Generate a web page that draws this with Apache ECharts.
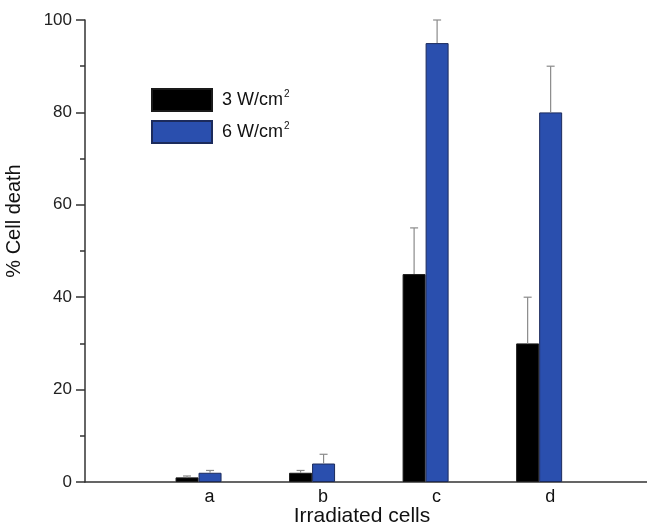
<!DOCTYPE html>
<html>
<head>
<meta charset="utf-8">
<script src="https://cdn.jsdelivr.net/npm/echarts@6/dist/echarts.min.js"></script>
<style>html,body{margin:0;padding:0;background:#fff;}#c{width:647px;height:527px;}</style>
</head>
<body>
<div id="c"></div>
<script>
const categories = ['a', 'b', 'c', 'd'];
const seriesNames = ['3 W/cm²', '6 W/cm²'];
const death3 = [1, 2, 45, 30];
const death6 = [2, 4, 95, 80];
const err3 = [0.3, 0.5, 10, 10];
const err6 = [0.5, 2, 5, 10];
const yTicks = [0, 20, 40, 60, 80, 100];

const chart = echarts.init(document.getElementById('c'));
const pos = categories.map((c, i) => i + 1);
const FONT = 'Liberation Sans, Arial, sans-serif';
const HALF = 11.5;

function errSeries(vals, errs, off) {
  return {
    type: 'custom',
    silent: true,
    z: 5,
    data: pos.map((x, i) => [x, vals[i], errs[i]]),
    renderItem: function (params, api) {
      const x = api.value(0), v = api.value(1), e = api.value(2);
      const p0 = api.coord([x, v]);
      const p1 = api.coord([x, v + e]);
      const cx = p0[0] + off;
      const st = { stroke: '#8a8a8a', lineWidth: 1.2 };
      return {
        type: 'group',
        children: [
          { type: 'line', shape: { x1: cx, y1: p0[1], x2: cx, y2: p1[1] }, style: st },
          { type: 'line', shape: { x1: cx - 4, y1: p1[1], x2: cx + 4, y2: p1[1] }, style: st }
        ]
      };
    }
  };
}

chart.setOption({
  backgroundColor: '#fff',
  animation: false,
  grid: { left: 85, top: 20, bottom: 45, right: 0, containLabel: false, outerBoundsMode: 'none' },
  legend: {
    orient: 'vertical',
    left: 146, top: 83,
    itemWidth: 60, itemHeight: 22, itemGap: 8,
    icon: 'rect',
    data: seriesNames,
    formatter: n => n.replace('²', '') + '{s|2}',
    textStyle: {
      fontFamily: FONT, fontSize: 18, color: '#111', lineHeight: 22,
      padding: [0, 0, 0, 5],
      rich: { s: { fontSize: 10, verticalAlign: 'top', lineHeight: 12, padding: [0, 0, 8, 1], fontFamily: FONT, color: '#111' } }
    }
  },
  xAxis: {
    type: 'value',
    min: 0, max: 4.95, interval: 1,
    name: 'Irradiated cells',
    nameLocation: 'middle',
    nameGap: 24,
    nameMoveOverlap: false,
    nameTextStyle: { fontFamily: FONT, fontSize: 21, color: '#111', padding: [0, 8, 0, 0] },
    axisLine: { show: true, lineStyle: { color: '#333', width: 1.5 } },
    axisTick: { show: false },
    splitLine: { show: false },
    axisLabel: {
      fontFamily: FONT, fontSize: 18, color: '#111', margin: 6,
      padding: [0, 0, 0, 22],
      formatter: v => categories[Math.round(v) - 1] || ''
    }
  },
  yAxis: {
    type: 'value',
    min: 0, max: 100, interval: 20,
    name: '% Cell death',
    nameLocation: 'middle',
    nameGap: 61,
    nameMoveOverlap: false,
    nameTextStyle: { fontFamily: FONT, fontSize: 20, color: '#111', padding: [0, 0, 0, 60] },
    axisLine: { show: true, lineStyle: { color: '#333', width: 1.5 } },
    axisTick: { show: true, length: 9, lineStyle: { color: '#333', width: 1.5 } },
    minorTick: { show: true, splitNumber: 2, length: 5, lineStyle: { color: '#333', width: 1.5 } },
    splitLine: { show: false },
    axisLabel: {
      fontFamily: FONT, fontSize: 17, color: '#222', margin: 13,
      formatter: v => (yTicks.indexOf(v) >= 0 ? String(v) : '')
    }
  },
  series: [
    {
      name: seriesNames[0], type: 'bar', barWidth: 23, barGap: '0%',
      data: pos.map((x, i) => [x, death3[i]]),
      itemStyle: { color: '#000', borderColor: '#1a1a1a', borderWidth: 1 }
    },
    {
      name: seriesNames[1], type: 'bar', barWidth: 23, barGap: '0%',
      data: pos.map((x, i) => [x, death6[i]]),
      itemStyle: { color: '#2a4fae', borderColor: '#1c2b5c', borderWidth: 1 }
    },
    errSeries(death3, err3, -HALF),
    errSeries(death6, err6, HALF)
  ]
});
</script>
</body>
</html>
